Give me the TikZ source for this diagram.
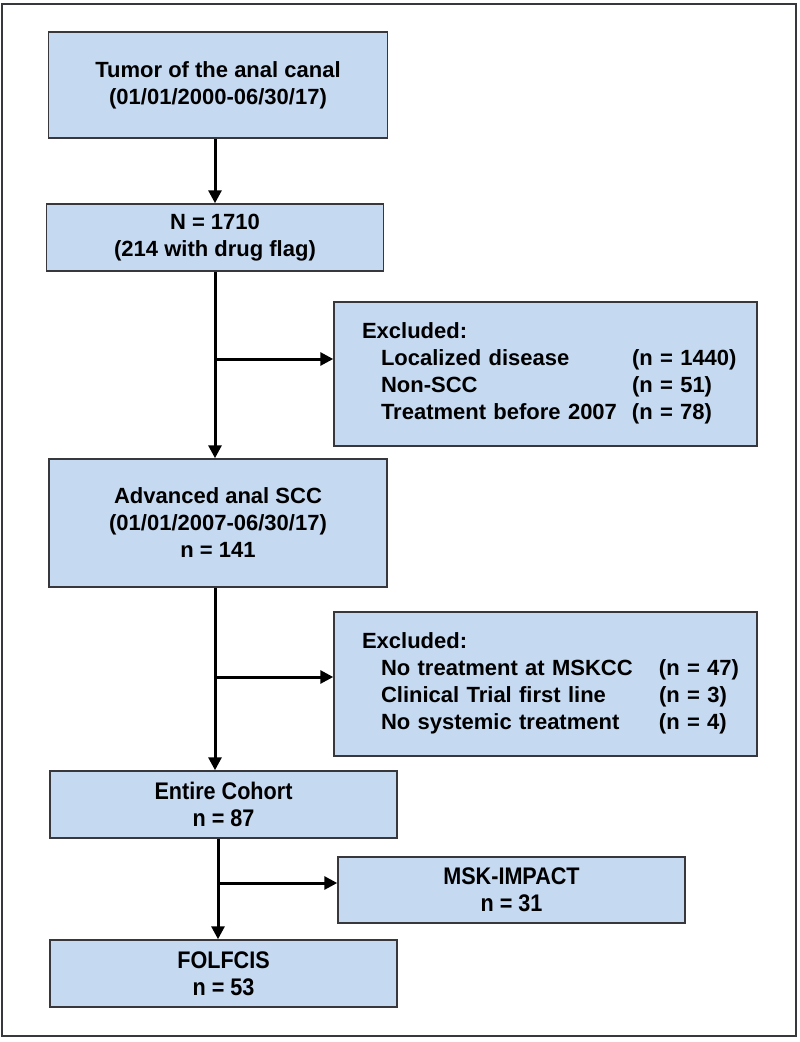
\documentclass[tikz,border=0pt]{standalone}
\usepackage{fontspec}
\setmainfont{Liberation Sans}
\newfontfamily\narrowsf[FakeStretch=0.9]{Liberation Sans}
\usepackage{tikz}
\usetikzlibrary{arrows.meta}
\definecolor{boxblue}{RGB}{197,217,241}
\definecolor{edgegray}{RGB}{55,55,60}
\tikzset{
BOX/.style={draw=edgegray,fill=boxblue,line width=1.5pt,align=center,inner sep=0pt,font=\fontsize{22}{27}\selectfont\bfseries},
NARROWBOX/.style={BOX,font=\fontsize{24}{27}\selectfont\narrowsf\bfseries},
EXCL/.style={BOX,align=left,inner xsep=28pt,text width=367pt,minimum height=144pt},
LINE/.style={draw=black,line width=3pt},
ARROW/.style={LINE,-{Triangle[length=13pt,width=13pt]}},
FRAME/.style={draw=edgegray,line width=2pt},
}

\begin{document}
\begin{tikzpicture}[x=1pt,y=-1pt]
	\useasboundingbox (0,0) rectangle (800,1042);
	\draw[FRAME] (2,4) rectangle (796,1036);
	%Main column
	\node[BOX,minimum width=339pt,minimum height=106pt] (tumor) at (218,85) {Tumor of the anal canal\\(01/01/2000-06/30/17)};
	\node[BOX,minimum width=337pt,minimum height=67pt] (total) at (215,237.5) {N = 1710\\(214 with drug flag)};
	\node[BOX,minimum width=338pt,minimum height=128pt] (adv) at (218,523) {Advanced anal SCC\\(01/01/2007-06/30/17)\\n = 141};
	\node[NARROWBOX,minimum width=347pt,minimum height=67pt] (cohort) at (223.5,804.5) {Entire Cohort\\n = 87};
	\node[NARROWBOX,minimum width=347pt,minimum height=67pt] (folfcis) at (223.5,973.5) {FOLFCIS\\n = 53};
	%Side boxes
	\node[EXCL] (excl1) at (545.5,374) {\begin{tabular}{@{\hspace{19pt}}p{251pt}@{}l@{}}
		\multicolumn{2}{@{}l@{}}{Excluded:}\\
		Localized disease & (n = 1440)\\
		Non-SCC & (n = 51)\\
		Treatment before 2007 & (n = 78)
	\end{tabular}};
	\node[EXCL] (excl2) at (545.5,684) {\begin{tabular}{@{\hspace{19pt}}p{278pt}@{}l@{}}
		\multicolumn{2}{@{}l@{}}{Excluded:}\\
		No treatment at MSKCC & (n = 47)\\
		Clinical Trial first line & (n = 3)\\
		No systemic treatment & (n = 4)
	\end{tabular}};
	\node[NARROWBOX,minimum width=347pt,minimum height=66pt] (impact) at (511.5,890) {MSK-IMPACT\\n = 31};
	%Arrows
	\coordinate (j1) at (215,359);
	\coordinate (j2) at (215,677);
	\coordinate (j3) at (218,883);
	\draw[ARROW] (total.north |- tumor.south) -- (total.north);
	\draw[ARROW] (j1 |- total.south) -- (j1 |- adv.north);
	\draw[ARROW] (j1) -- (j1 -| excl1.west);
	\draw[ARROW] (j2 |- adv.south) -- (j2 |- cohort.north);
	\draw[ARROW] (j2) -- (j2 -| excl2.west);
	\draw[ARROW] (j3 |- cohort.south) -- (j3 |- folfcis.north);
	\draw[ARROW] (j3) -- (j3 -| impact.west);
\end{tikzpicture}
\end{document}
